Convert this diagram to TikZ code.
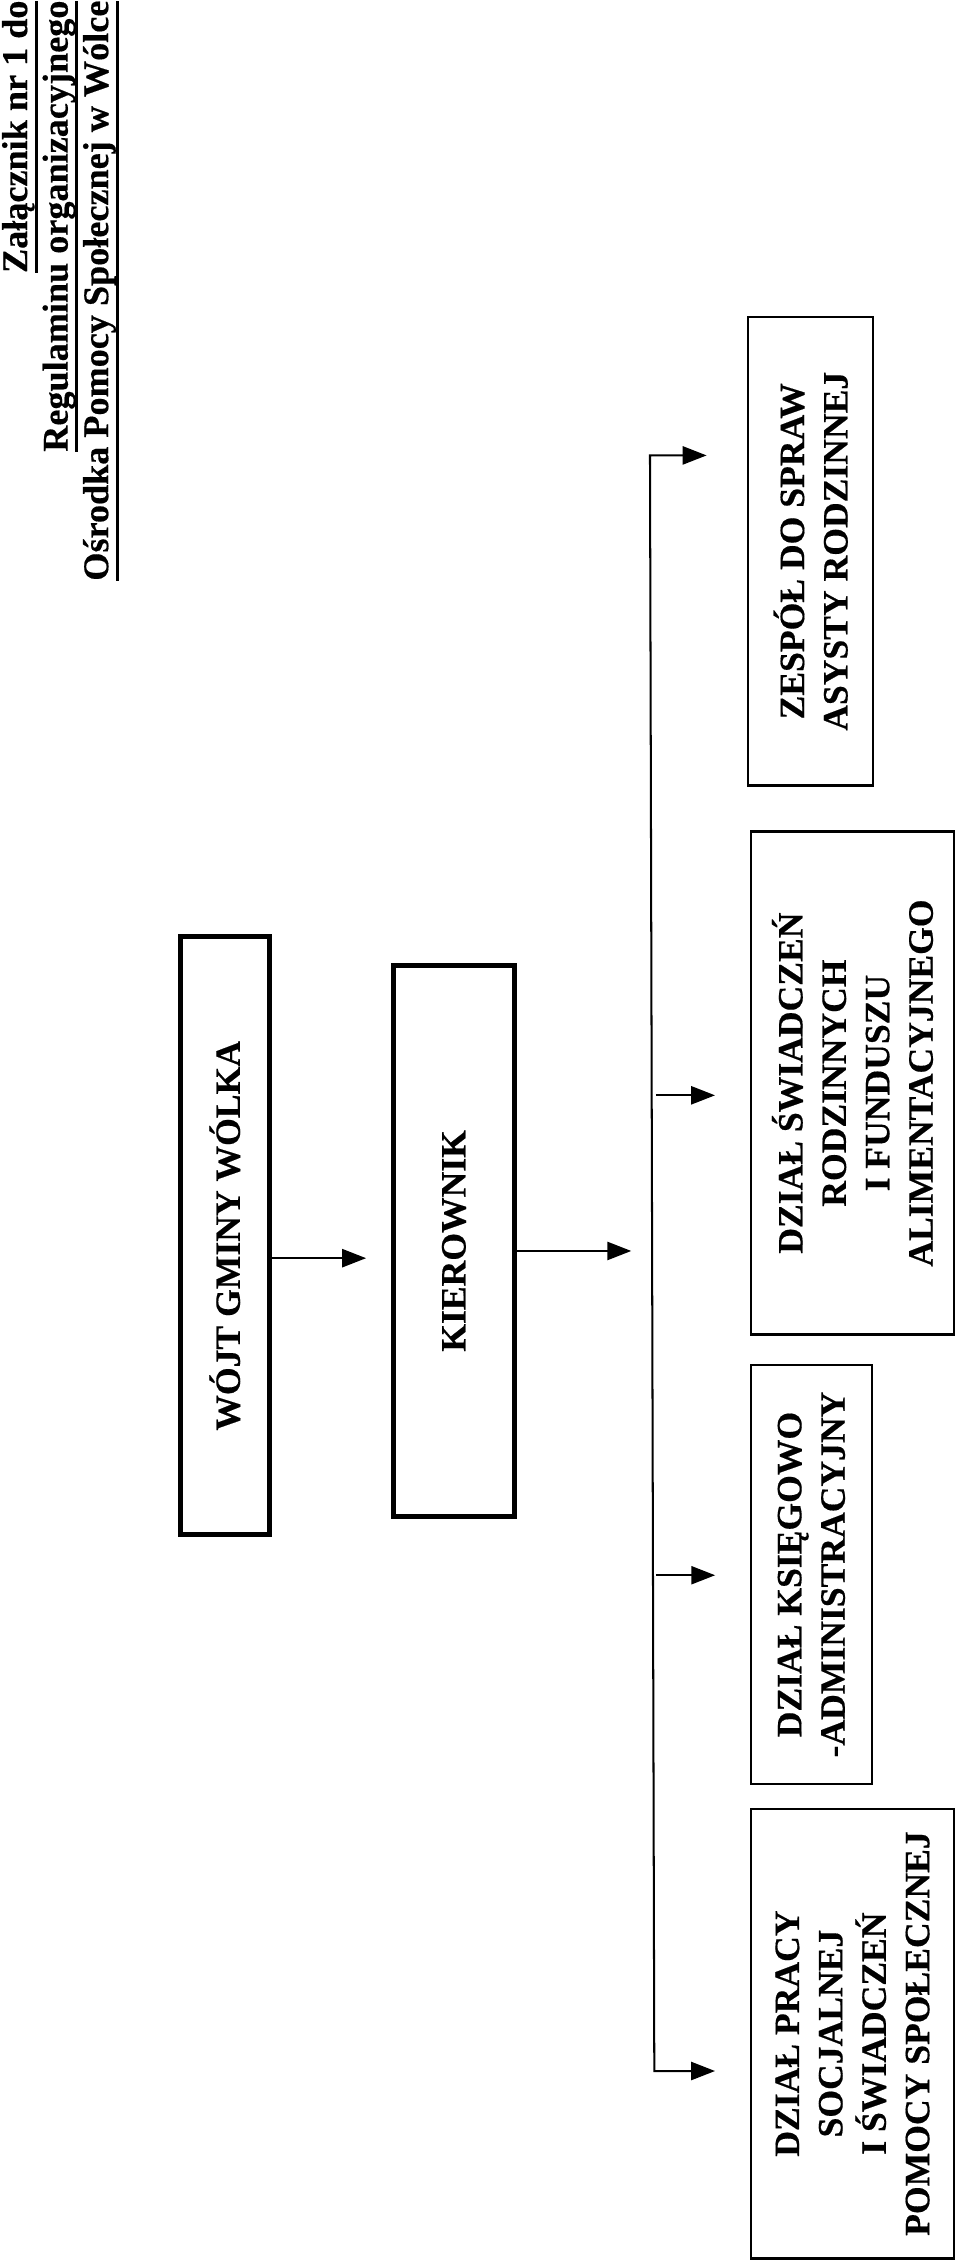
\documentclass[tikz,border=0pt]{standalone}
\usepackage{fontspec}
\setmainfont[BoldFeatures={FakeBold=0.4}]{Liberation Serif}
\usetikzlibrary{arrows.meta}
\newlength\podkrdl
\newcommand\podkr[1]{\settowidth\podkrdl{#1}#1\llap{\rule[-3.6pt]{\podkrdl}{0.9pt}}}

\begin{document}
\begin{tikzpicture}[x=0.0175cm, y=-0.0175cm,
    box/.style={draw, rotate=90, align=center, inner sep=0pt, font=\bfseries\fontsize{12.3}{15}\selectfont},
    thickbox/.style={box, line width=1.7pt},
    thinbox/.style={box, line width=0.8pt},
    tip/.tip={Triangle[length=2.9mm,width=2.2mm]},
    arr/.style={-tip, line width=0.7pt},
    arrboth/.style={tip-tip, line width=0.7pt}]
  \useasboundingbox (0,0) rectangle (666,1573);
  % naglowek
  \node[anchor=north east, rotate=90, align=right, inner sep=0pt, font=\bfseries\fontsize{12.5}{14}\selectfont] (naglowek) at (1,0)
    {\podkr{Załącznik nr 1 do}\\ \podkr{Regulaminu organizacyjnego}\\ \podkr{Ośrodka Pomocy Społecznej w Wólce}};
  % kierownictwo
  \node[thickbox, minimum width=7.26cm, minimum height=1.085cm] (wojt) at (156,857.5) {WÓJT GMINY WÓLKA};
  \node[thickbox, minimum width=6.685cm, minimum height=1.47cm] (kier) at (315,861) {KIEROWNIK};
  % dzialy
  \node[thinbox, minimum width=5.69cm, minimum height=1.52cm] (zespol) at (562.5,382.5) {ZESPÓŁ DO SPRAW\\ASYSTY RODZINNEJ};
  \node[thinbox, minimum width=6.11cm, minimum height=2.47cm] (swiad) at (591.5,751.5) {DZIAŁ ŚWIADCZEŃ\\RODZINNYCH\\I FUNDUSZU\\ALIMENTACYJNEGO};
  \node[thinbox, minimum width=5.09cm, minimum height=1.47cm] (ksieg) at (563,1092.5) {DZIAŁ KSIĘGOWO\\-ADMINISTRACYJNY};
  \node[thinbox, minimum width=5.46cm, minimum height=2.47cm] (praca) at (591.5,1411) {DZIAŁ PRACY\\SOCJALNEJ\\I ŚWIADCZEŃ\\POMOCY SPOŁECZNEJ};
  % polaczenia
  \coordinate (k1) at (254,873);
  \coordinate (k2) at (438,868);
  \coordinate (ttop) at (451,316);
  \coordinate (tbot) at (454,1437);
  \coordinate (b2) at (455,760);
  \coordinate (b3) at (455,1093);
  \draw[arr] (wojt.south |- k1) -- (k1);
  \draw[arr] (kier.south |- k2) -- (k2);
  \draw[arrboth, shorten <=0.49cm, shorten >=0.42cm]
    (ttop -| zespol.north) -- (ttop) -- (tbot) -- (tbot -| praca.north);
  \draw[arr, shorten >=0.42cm] (b2) -- (b2 -| swiad.north);
  \draw[arr, shorten >=0.42cm] (b3) -- (b3 -| ksieg.north);
\end{tikzpicture}
\end{document}
